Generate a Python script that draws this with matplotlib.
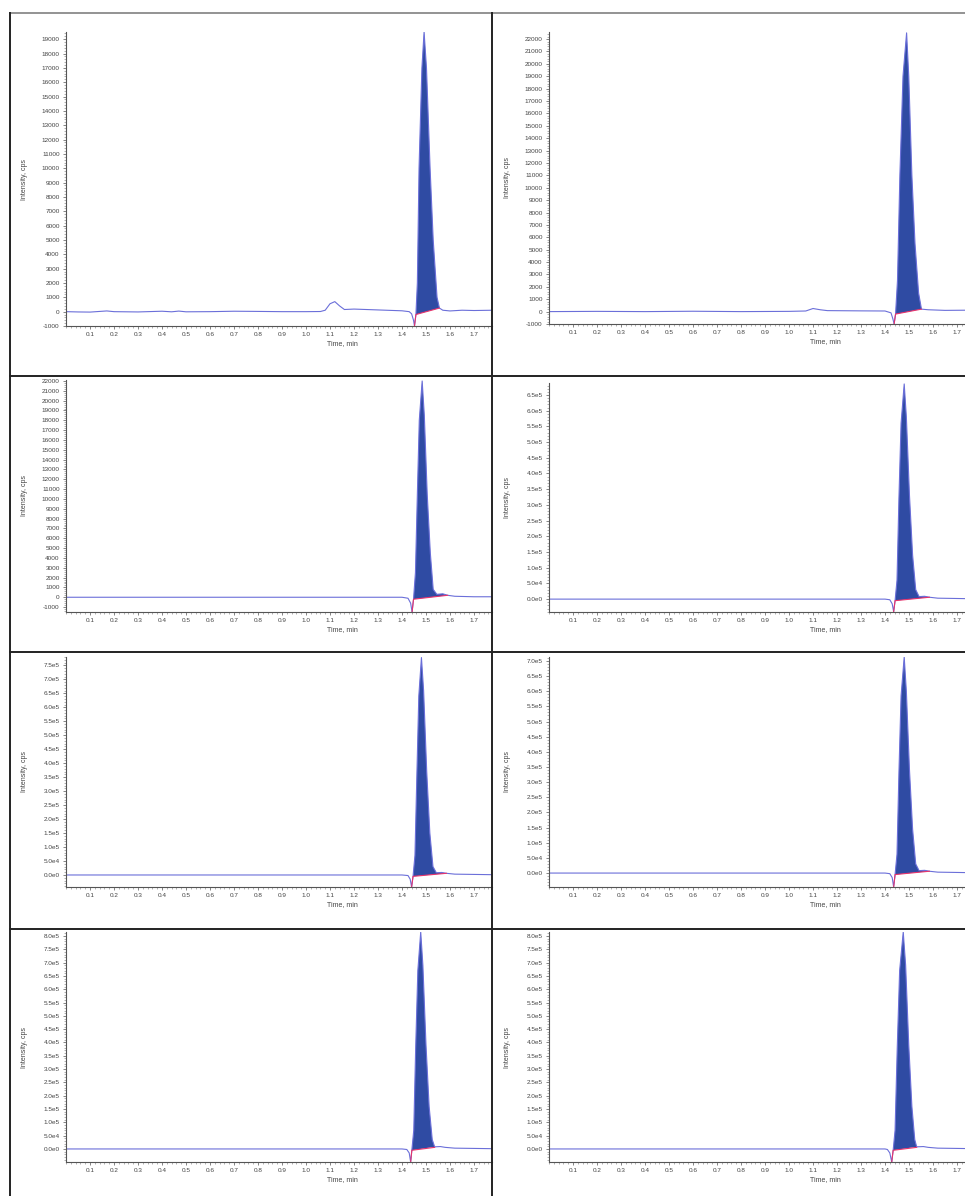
import numpy as np
import matplotlib
matplotlib.use("Agg")
import matplotlib.pyplot as plt
from matplotlib.lines import Line2D
from matplotlib.ticker import MultipleLocator, FuncFormatter

# ====== DATA ================================================================
# panel 1 (top left)
t1 = [0.00, 0.05, 0.10, 0.17, 0.20, 0.30, 0.40, 0.44, 0.47, 0.50, 0.60, 0.70,
      0.78, 0.90, 1.00, 1.06, 1.08, 1.10, 1.12, 1.14, 1.16, 1.20, 1.30, 1.40,
      1.43, 1.44, 1.448, 1.452, 1.458, 1.464, 1.471, 1.483, 1.492, 1.502,
      1.517, 1.530, 1.546, 1.556, 1.570, 1.600, 1.650, 1.700, 1.780]
y1 = [0, -20, -30, 50, 0, -20, 30, -10, 40, -10, 0, 30, 20, 0, 0, 10, 100,
      550, 700, 400, 150, 180, 120, 60, 0, -150, -600, -1000, -200, 2000,
      10000, 17000, 19500, 17000, 10000, 5000, 1000, 250, 100, 50, 100, 80, 100]
bt1 = [1.452, 1.458, 1.556]
by1 = [-1000, -200, 250]

# panel 2 (top right)
t2 = [0.00, 0.20, 0.40, 0.60, 0.80, 1.00, 1.07, 1.10, 1.13, 1.16, 1.30, 1.40,
      1.425, 1.433, 1.438, 1.444, 1.452, 1.462, 1.475, 1.490, 1.499, 1.512,
      1.525, 1.540, 1.552, 1.580, 1.650, 1.780]
y2 = [0, 20, 0, 30, 0, 20, 50, 250, 150, 80, 60, 50, -100, -600, -1000, -200,
      2500, 11000, 19000, 22500, 19000, 11000, 5500, 1500, 200, 150, 100, 120]
bt2 = [1.438, 1.444, 1.552]
by2 = [-1000, -200, 200]

# panel 3 (second row left)
t3 = [0.00, 0.50, 1.00, 1.40, 1.425, 1.436, 1.442, 1.448, 1.456, 1.464,
      1.472, 1.484, 1.493, 1.505, 1.518, 1.530, 1.545, 1.570, 1.590, 1.620,
      1.700, 1.780]
y3 = [0, 0, 0, 0, -100, -600, -1500, -200, 2500, 10500, 18000, 22000, 18500,
      10500, 4500, 800, 300, 350, 200, 100, 50, 50]
bt3 = [1.442, 1.448, 1.590]
by3 = [-1500, -200, 200]

# panel 4 (second row right)
t4 = [0.00, 0.50, 1.00, 1.40, 1.420, 1.430, 1.436, 1.442, 1.450, 1.458,
      1.467, 1.480, 1.489, 1.502, 1.515, 1.528, 1.542, 1.565, 1.585, 1.620,
      1.700, 1.780]
y4 = [0, 0, 0, 0, -2000, -15000, -40000, -5000, 60000, 320000, 560000,
      685000, 580000, 330000, 140000, 30000, 8000, 9000, 6000, 3000, 2000, 1000]
bt4 = [1.436, 1.442, 1.585]
by4 = [-40000, -5000, 6000]

# panel 5 (third row left)
t5 = [0.00, 0.50, 1.00, 1.40, 1.425, 1.434, 1.440, 1.446, 1.454, 1.462,
      1.470, 1.481, 1.490, 1.503, 1.516, 1.529, 1.543, 1.565, 1.585, 1.620,
      1.700, 1.780]
y5 = [0, 0, 0, 0, -2000, -15000, -43000, -5000, 70000, 360000, 640000,
      778000, 660000, 370000, 150000, 30000, 8000, 9000, 6000, 3000, 2000, 1000]
bt5 = [1.440, 1.446, 1.585]
by5 = [-43000, -5000, 6000]

# panel 6 (third row right)
t6 = [0.00, 0.50, 1.00, 1.40, 1.420, 1.430, 1.436, 1.442, 1.450, 1.458,
      1.467, 1.480, 1.489, 1.502, 1.515, 1.528, 1.542, 1.565, 1.585, 1.620,
      1.700, 1.780]
y6 = [0, 0, 0, 0, -2000, -15000, -46000, -5000, 62000, 330000, 585000,
      713000, 600000, 340000, 145000, 30000, 8000, 9000, 6000, 3000, 2000, 1000]
bt6 = [1.436, 1.442, 1.585]
by6 = [-46000, -5000, 6000]

# panel 7 (bottom left)
t7 = [0.00, 0.50, 1.00, 1.40, 1.420, 1.430, 1.436, 1.441, 1.449, 1.457,
      1.466, 1.478, 1.487, 1.500, 1.513, 1.526, 1.536, 1.560, 1.580, 1.620,
      1.700, 1.780]
y7 = [0, 0, 0, 0, -2000, -15000, -49000, -5000, 70000, 380000, 670000,
      815000, 690000, 390000, 160000, 35000, 8000, 9000, 6000, 3000, 2000, 1000]
bt7 = [1.436, 1.441, 1.536]
by7 = [-49000, -5000, 6000]

# panel 8 (bottom right)
t8 = [0.00, 0.50, 1.00, 1.40, 1.410, 1.420, 1.428, 1.434, 1.442, 1.451,
      1.461, 1.476, 1.486, 1.499, 1.512, 1.524, 1.532, 1.560, 1.580, 1.620,
      1.700, 1.780]
y8 = [0, 0, 0, 0, -2000, -15000, -49000, -5000, 70000, 380000, 670000,
      815000, 690000, 390000, 160000, 35000, 8000, 9000, 6000, 3000, 2000, 1000]
bt8 = [1.428, 1.434, 1.532]
by8 = [-49000, -5000, 6000]

# y-axis ranges and major tick steps
ylims = [(-1000, 19500), (-1000, 22570), (-1500, 22100), (-41000, 688000),
         (-43000, 780000), (-46000, 713000), (-49000, 815000), (-49000, 815000)]
ytop_tick = [19000, 22000, 22000, 650000, 750000, 700000, 800000, 800000]
ybot_tick = [-1000, -1000, -1000, 0, 0, 0, 0, 0]
XMAX = 1.775
# ============================================================================

W, H = 965, 1196
LINE_C = '#6b6fd9'
FILL_C = '#2f4ba3'
RED_C = '#e8336b'
FONT = 'Liberation Sans'


def sci(v, pos=None):
    if v == 0:
        return '0.0e0'
    e = int(np.floor(np.log10(abs(v)) + 1e-9))
    return '%.1fe%d' % (v / 10 ** e, e)


def plain(v, pos=None):
    return '%d' % v


def frame(x0, y0, x1, y1, color='#222222', lw=1.4):
    fig.add_artist(Line2D([x0 / W, x1 / W], [1 - y0 / H, 1 - y1 / H],
                          color=color, lw=lw, transform=fig.transFigure))


fig = plt.figure(figsize=(W / 100, H / 100), dpi=100)

# panel borders
frame(10, 13, W, 13, color='#8a8a8a', lw=1.3)
frame(10, 13, 10, H)
frame(492, 13, 492, H)
for yy in [376, 652, 929]:
    frame(10, yy, W, yy)

# axes boxes in pixels: (left, top, bottom)
boxes = [(66, 32, 326), (549, 32, 324), (66, 380, 612), (549, 383, 612),
         (66, 657, 887), (549, 657, 887), (66, 932, 1162), (549, 932, 1162)]
traces = [(t1, y1, bt1, by1), (t2, y2, bt2, by2), (t3, y3, bt3, by3),
          (t4, y4, bt4, by4), (t5, y5, bt5, by5), (t6, y6, bt6, by6),
          (t7, y7, bt7, by7), (t8, y8, bt8, by8)]

for i, ((left, top, bottom), (t, y, bt, by)) in enumerate(zip(boxes, traces)):
    wpx = XMAX * 240
    ax = fig.add_axes([left / W, 1 - bottom / H, wpx / W, (bottom - top) / H])
    t = np.array(t)
    y = np.array(y)

    # peak area between the trace and the integration baseline
    m = (t >= bt[1]) & (t <= bt[2])
    ax.fill(t[m], y[m], color=FILL_C, lw=0)
    ax.plot(t, y, color=LINE_C, lw=0.8)
    ax.plot(bt, by, color=RED_C, lw=0.8)

    ax.set_xlim(0, XMAX)
    ax.set_ylim(*ylims[i])

    for s in ['top', 'right']:
        ax.spines[s].set_visible(False)
    for s in ['left', 'bottom']:
        ax.spines[s].set_color('#555555')
        ax.spines[s].set_linewidth(0.8)

    ax.set_xticks(np.arange(1, 18) / 10)
    ax.xaxis.set_major_formatter(FuncFormatter(lambda v, p: '%.1f' % v))
    ax.xaxis.set_minor_locator(MultipleLocator(0.02))
    if i < 3:
        ax.set_yticks(np.arange(ybot_tick[i], ytop_tick[i] + 1, 1000))
        ax.yaxis.set_major_formatter(FuncFormatter(plain))
        ax.yaxis.set_minor_locator(MultipleLocator(200))
    else:
        ax.set_yticks(np.arange(ybot_tick[i], ytop_tick[i] + 1, 50000))
        ax.yaxis.set_major_formatter(FuncFormatter(sci))
        ax.yaxis.set_minor_locator(MultipleLocator(10000))

    ax.tick_params(which='major', length=2.5, width=0.5, color='#555555',
                   labelsize=4.6, labelcolor='#444444', pad=2)
    ax.tick_params(which='minor', length=1.3, width=0.4, color='#777777')
    for lab in ax.get_xticklabels() + ax.get_yticklabels():
        lab.set_fontfamily(FONT)

    hpx = bottom - top
    ax.set_xlabel('Time, min', fontsize=5, color='#444444', family=FONT)
    ax.xaxis.set_label_coords(0.65 * 426 / wpx, -14 / hpx)
    ax.set_ylabel('Intensity, cps', fontsize=5, color='#444444', family=FONT)
    ax.yaxis.set_label_coords(-38 / wpx, 0.5)

fig.savefig('out.png', dpi=100)
